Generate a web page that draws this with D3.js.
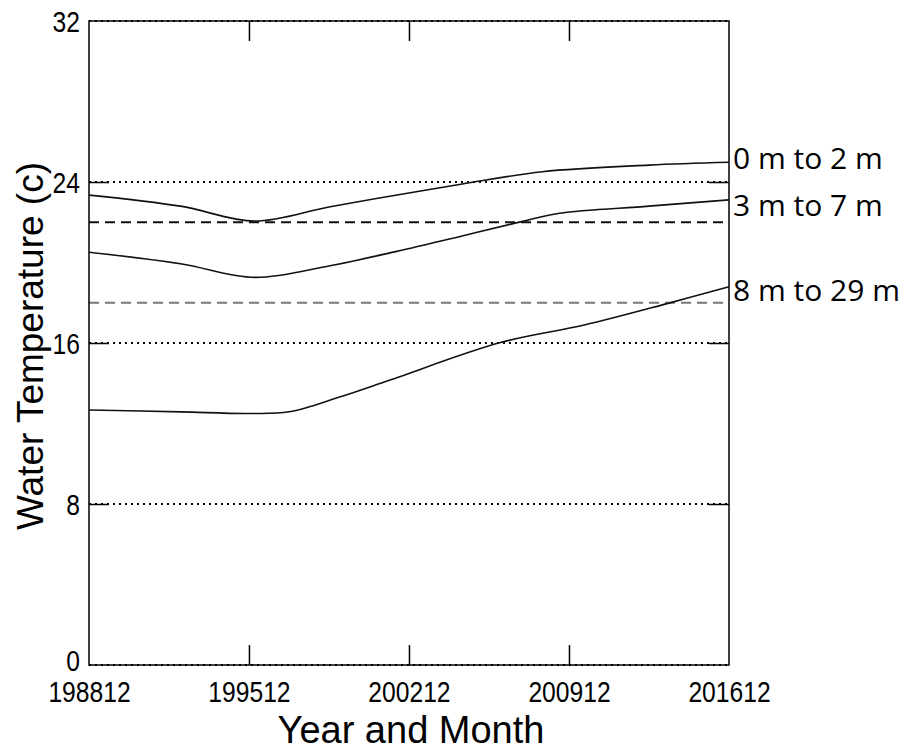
<!DOCTYPE html>
<html>
<head>
<meta charset="utf-8">
<script src="https://cdn.jsdelivr.net/npm/d3@7/dist/d3.min.js"></script>
<style>
  html, body { margin: 0; padding: 0; background: #fff; }
  svg { display: block; }
</style>
</head>
<body>
<svg id="chart" width="904" height="750"></svg>
<script>
// ---- data ----
const xTickLabels = ["198812", "199512", "200212", "200912", "201612"];
const yTickValues = [0, 8, 16, 24, 32];

const seriesNames = ["0 m to 2 m", "3 m to 7 m", "8 m to 29 m"];

const months0to2 = ["198812", "199212", "199603", "199906", "200205", "200504", "200810", "201306", "201612"];
const temps0to2  = [23.35, 22.80, 22.06, 22.76, 23.34, 23.90, 24.51, 24.84, 24.98];

const months3to7 = ["198812", "199212", "199603", "199906", "200205", "200504", "200711", "200907", "201306", "201612"];
const temps3to7  = [20.51, 19.94, 19.26, 19.83, 20.54, 21.32, 22.03, 22.45, 22.80, 23.11];

const months8to29 = ["198812", "199212", "199511", "199709", "199912", "200202", "200612", "201008", "201404", "201612"];
const temps8to29  = [12.67, 12.58, 12.50, 12.58, 13.33, 14.16, 16.02, 16.89, 17.97, 18.80];

const dashedRefValues = [22, 18];

// ---- layout ----
const svg = d3.select("#chart");
const margin = { left: 89, top: 21, right: 175, bottom: 85 };
const W = 904, H = 750;
const pw = W - margin.left - margin.right; // 640
const ph = H - margin.top - margin.bottom; // 644
const parse = d3.timeParse("%Y%m");

const x = d3.scaleTime()
  .domain([parse(xTickLabels[0]), parse(xTickLabels[xTickLabels.length - 1])])
  .range([0, pw]);
const y = d3.scaleLinear().domain([0, 32]).range([ph, 0]);

svg.append("rect").attr("width", W).attr("height", H).attr("fill", "#fff");
const g = svg.append("g").attr("transform", `translate(${margin.left},${margin.top})`);

const tickFont = "'Liberation Sans', Arial, sans-serif";
const digitW = 13.7; // condensed digit width

// dotted horizontal grid lines
g.selectAll(".grid").data(yTickValues).enter().append("line")
  .attr("x1", 0).attr("x2", pw)
  .attr("y1", d => y(d)).attr("y2", d => y(d))
  .attr("stroke", "#000").attr("stroke-width", 2)
  .attr("stroke-dasharray", "2,4");

// dashed reference lines
g.selectAll(".ref").data(dashedRefValues).enter().append("line")
  .attr("x1", 0).attr("x2", pw)
  .attr("y1", d => y(d)).attr("y2", d => y(d))
  .attr("stroke", (d, i) => i === 0 ? "#111" : "#777")
  .attr("stroke-width", 2)
  .attr("stroke-dasharray", "10,6");

// frame
g.append("rect").attr("x", 0).attr("y", 0).attr("width", pw).attr("height", ph)
  .attr("fill", "none").attr("stroke", "#000").attr("stroke-width", 1.5);

// inner ticks via axes
const tickLen = 20;
const xDates = xTickLabels.map(parse);
const xInner = xDates.slice(1, -1);
const yInner = yTickValues.slice(1, -1);

const axB = g.append("g").attr("transform", `translate(0,${ph})`)
  .call(d3.axisBottom(x).tickValues(xDates).tickSizeInner(-tickLen).tickSizeOuter(0)
    .tickFormat(d3.timeFormat("%Y%m")));
axB.select(".domain").remove();
axB.selectAll(".tick line").attr("stroke", "#000").attr("stroke-width", 1.5)
  .attr("display", d => (xInner.some(t => +t === +d)) ? null : "none");
axB.selectAll(".tick text").attr("y", 37).attr("dy", 0)
  .attr("font-family", tickFont).attr("font-size", 29).attr("fill", "#000")
  .attr("textLength", function() { return this.textContent.length * digitW; })
  .attr("lengthAdjust", "spacingAndGlyphs");

const axT = g.append("g")
  .call(d3.axisTop(x).tickValues(xInner).tickSizeInner(-tickLen).tickSizeOuter(0).tickFormat(""));
axT.select(".domain").remove();
axT.selectAll(".tick line").attr("stroke", "#000").attr("stroke-width", 1.5);

const axL = g.append("g")
  .call(d3.axisLeft(y).tickValues(yTickValues).tickSizeInner(-tickLen).tickSizeOuter(0).tickFormat(d3.format("d")));
axL.select(".domain").remove();
axL.selectAll(".tick line").attr("stroke", "#000").attr("stroke-width", 1.5)
  .attr("display", d => yInner.includes(d) ? null : "none");
axL.selectAll(".tick text").attr("x", -9).attr("dy", d => d === 0 ? "0.2em" : "0.36em")
  .attr("font-family", tickFont).attr("font-size", 29).attr("fill", "#000")
  .attr("textLength", function() { return this.textContent.length * digitW; })
  .attr("lengthAdjust", "spacingAndGlyphs");

const axR = g.append("g").attr("transform", `translate(${pw},0)`)
  .call(d3.axisRight(y).tickValues(yInner).tickSizeInner(-tickLen).tickSizeOuter(0).tickFormat(""));
axR.select(".domain").remove();
axR.selectAll(".tick line").attr("stroke", "#000").attr("stroke-width", 1.5);

// series lines
const series = [
  { name: seriesNames[0], months: months0to2, temps: temps0to2 },
  { name: seriesNames[1], months: months3to7, temps: temps3to7 },
  { name: seriesNames[2], months: months8to29, temps: temps8to29 }
];
const line = d3.line()
  .x(d => x(d.date)).y(d => y(d.v))
  .curve(d3.curveCatmullRom.alpha(0.5));

series.forEach(s => {
  const pts = s.months.map((m, i) => ({ date: parse(m), v: s.temps[i] }));
  g.append("path").datum(pts)
    .attr("d", line)
    .attr("fill", "none").attr("stroke", "#111").attr("stroke-width", 1.6);
});

// series labels at right edge
const labelOffsets = [7, 16, 14];
series.forEach((s, i) => {
  const last = s.temps[s.temps.length - 1];
  svg.append("text")
    .attr("x", margin.left + pw + 4)
    .attr("y", margin.top + y(last) + labelOffsets[i])
    .attr("font-family", "'Open Sans', sans-serif")
    .attr("font-size", 30)
    .attr("fill", "#000")
    .text(s.name);
});

// axis titles
svg.append("text")
  .attr("x", margin.left + pw / 2 + 2).attr("y", 743)
  .attr("text-anchor", "middle")
  .attr("font-family", "'Liberation Sans', Arial, sans-serif")
  .attr("font-size", 38).attr("fill", "#000")
  .text("Year and Month");

svg.append("text")
  .attr("transform", `translate(43,${margin.top + ph / 2 + 3}) rotate(-90)`)
  .attr("text-anchor", "middle")
  .attr("font-family", "'Liberation Sans', Arial, sans-serif")
  .attr("font-size", 37).attr("fill", "#000")
  .text("Water Temperature (c)");
</script>
</body>
</html>
